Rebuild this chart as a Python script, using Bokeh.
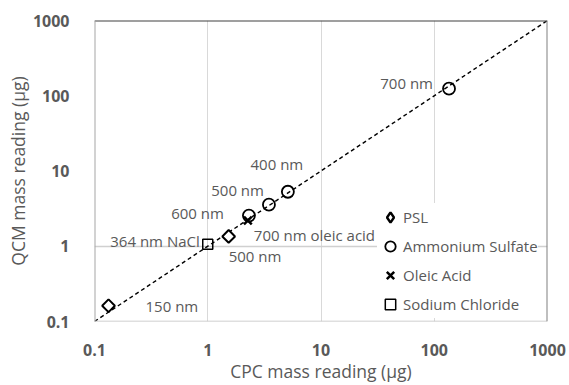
import math
from bokeh.plotting import figure
from bokeh.models import (FixedTicker, CustomJSTickFormatter, Legend, LegendItem,
                          ColumnDataSource, Span)
from bokeh.core.properties import value
from bokeh.embed import file_html
from bokeh.resources import INLINE

# ---- data ----
psl_x = [0.133, 1.53]
psl_y = [0.162, 1.35]
as_x = [2.31, 3.47, 5.1, 135]
as_y = [2.56, 3.57, 5.3, 124]
oleic_x = [2.26]
oleic_y = [2.2]
nacl_x = [1.0]
nacl_y = [1.06]
ref_line = [0.1, 1000]
ticks = [0.1, 1, 10, 100, 1000]

ann_text = ["150 nm", "500 nm", "364 nm NaCl", "600 nm", "500 nm", "400 nm",
            "700 nm oleic acid", "700 nm"]
ann_x = [psl_x[0], psl_x[1], nacl_x[0], as_x[0], as_x[1], as_x[2], oleic_x[0], as_x[3]]
ann_y = [psl_y[0], psl_y[1], nacl_y[0], as_y[0], as_y[1], as_y[2], oleic_y[0], as_y[3]]

FONT = "Open Sans"
GRAY = "#595959"

p = figure(width=569, height=385, x_axis_type="log", y_axis_type="log",
           x_range=(0.1, 1000), y_range=(0.1, 1000),
           output_backend="svg", toolbar_location=None,
           min_border_left=94, min_border_right=22, min_border_top=20,
           min_border_bottom=62)
p.background_fill_color = "white"
p.outline_line_color = None

# grids
p.xgrid.ticker = FixedTicker(ticks=[1, 10, 100])
p.xgrid.grid_line_color = "#d9d9d9"
p.xgrid.grid_line_width = 1
p.ygrid.ticker = FixedTicker(ticks=[1])
p.ygrid.grid_line_color = "#d0d0d0"
p.ygrid.grid_line_width = 1.3

# plot-area borders
p.add_layout(Span(location=ticks[-1], dimension="width", line_color="#404040", line_width=2))
p.add_layout(Span(location=ticks[0], dimension="width", line_color="#c0c0c0", line_width=1.5))
p.add_layout(Span(location=ticks[0], dimension="height", line_color="#a6a6a6", line_width=2))
p.add_layout(Span(location=ticks[-1], dimension="height", line_color="#808080", line_width=2))

fmt = CustomJSTickFormatter(code="return String(tick);")
for ax in (p.xaxis[0], p.yaxis[0]):
    ax.ticker = FixedTicker(ticks=ticks)
    ax.formatter = fmt
    ax.axis_line_color = None
    ax.major_tick_line_color = None
    ax.minor_tick_line_color = None
    ax.major_label_text_font = FONT
    ax.major_label_text_font_style = "bold"
    ax.major_label_text_font_size = "16px"
    ax.major_label_text_color = GRAY
    ax.axis_label_text_font = FONT
    ax.axis_label_text_font_style = "normal"
    ax.axis_label_text_font_size = "17.5px"
    ax.axis_label_text_color = GRAY

p.xaxis.axis_label = "CPC mass reading (µg)"
p.yaxis.axis_label = "QCM mass reading (µg)"
p.xaxis.major_label_standoff = 16
p.xaxis.axis_label_standoff = 0
p.yaxis.major_label_standoff = 19
p.yaxis.axis_label_standoff = 0

# 1:1 line
p.line(ref_line, ref_line, line_color="black", line_dash="4 3", line_width=1.4)

# PSL legend swatch (legend glyphs ignore angle); it sits hidden beneath the
# white-filled rotated squares drawn right after it
r_psl_key = p.scatter(psl_x, psl_y, marker="diamond", size=11,
                      line_color="black", line_width=2.4, fill_color="white")
r_psl = p.scatter(psl_x, psl_y, marker="square", size=9, angle=math.pi / 4,
                  line_color="black", line_width=2, fill_color="white")
r_as = p.scatter(as_x, as_y, marker="circle", size=12,
                 line_color="black", line_width=1.8, fill_color=None)
r_ol = p.scatter(oleic_x, oleic_y, marker="x", size=11,
                 line_color="black", line_width=2.5)
r_na = p.scatter(nacl_x, nacl_y, marker="square", size=10,
                 line_color="black", line_width=1.5, fill_color=None)

# annotations
ann_dx = [37, 0, -8, -25, -5, -11, 6, -16]
ann_dy = [0, 20, -3, -3, -15, -28, 15, -6]
ann_align = ["left", "left", "right", "right", "right", "center", "left", "right"]
src = ColumnDataSource(dict(x=ann_x, y=ann_y, t=ann_text, dx=ann_dx, dy=ann_dy, al=ann_align))
p.text(x="x", y="y", text="t", x_offset="dx", y_offset="dy", text_align="al",
       text_baseline="middle", source=src, text_font=value(FONT),
       text_font_size="15px", text_color=GRAY)

legend = Legend(items=[LegendItem(label="PSL", renderers=[r_psl_key]),
                       LegendItem(label="Ammonium Sulfate", renderers=[r_as]),
                       LegendItem(label="Oleic Acid", renderers=[r_ol]),
                       LegendItem(label="Sodium Chloride", renderers=[r_na])],
                location=(283, 3))
legend.background_fill_color = "white"
legend.background_fill_alpha = 1
legend.border_line_color = None
legend.label_text_font = FONT
legend.label_text_font_size = "15px"
legend.label_text_color = GRAY
legend.label_height = 20
legend.glyph_height = 28
legend.glyph_width = 26
legend.spacing = 1
legend.padding = 5
legend.label_standoff = 0
legend.margin = 0
p.add_layout(legend)

open("out.html", "w").write(file_html(p, INLINE))
